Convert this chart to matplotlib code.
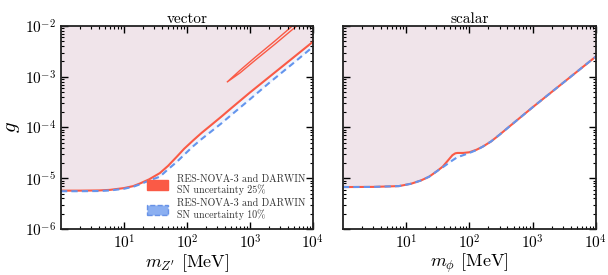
import matplotlib
matplotlib.use("Agg")
import matplotlib.pyplot as plt
from matplotlib.patches import Patch

plt.rcParams["font.family"] = "serif"
plt.rcParams["font.serif"] = ["cmr10"]
plt.rcParams["mathtext.fontset"] = "cm"
plt.rcParams["axes.formatter.use_mathtext"] = True
plt.rcParams["axes.unicode_minus"] = True

# vector mediator
m_vec = [1, 2, 4, 6, 10, 14, 18, 25, 37, 50, 69, 90, 126, 170, 232, 350, 500, 1000, 2000, 5000, 10000]
g_vec_25 = [5.7e-6, 5.7e-6, 5.75e-6, 5.9e-6, 6.4e-6, 7.0e-6, 7.9e-6, 9.5e-6, 1.26e-5, 1.75e-5, 2.66e-5,
            3.8e-5, 5.6e-5, 7.8e-5, 1.07e-4, 1.63e-4, 2.38e-4, 4.9e-4, 9.8e-4, 2.45e-3, 4.9e-3]
g_vec_10 = [5.55e-6, 5.55e-6, 5.6e-6, 5.75e-6, 6.2e-6, 6.8e-6, 7.6e-6, 9.0e-6, 1.07e-5, 1.5e-5, 2.1e-5,
            2.9e-5, 4.3e-5, 5.9e-5, 8.0e-5, 1.2e-4, 1.75e-4, 3.6e-4, 7.5e-4, 1.9e-3, 3.9e-3]

# thin island of the 25% contour (vector)
island_m = [430, 700, 1200, 2500, 4700, 5500, 2500, 1200, 700, 430]
island_g = [7.8e-4, 1.35e-3, 2.4e-3, 5.1e-3, 1.0e-2, 1.0e-2, 4.4e-3, 2.1e-3, 1.2e-3, 7.8e-4]

# scalar mediator
m_sca = [1, 3, 7.7, 12, 17, 23, 30, 38, 46, 54, 60, 65, 80, 100, 130, 163, 220, 300, 431, 1000, 2000, 5000, 10000]
g_sca_25 = [6.7e-6, 6.75e-6, 7.0e-6, 7.8e-6, 9.0e-6, 1.07e-5, 1.35e-5, 1.7e-5, 2.25e-5, 2.85e-5, 3.1e-5,
            3.15e-5, 3.15e-5, 3.25e-5, 3.65e-5, 4.2e-5, 5.3e-5, 7.2e-5, 1.05e-4, 2.5e-4, 5.0e-4, 1.25e-3, 2.5e-3]
g_sca_10 = [6.7e-6, 6.75e-6, 7.0e-6, 7.8e-6, 9.0e-6, 1.07e-5, 1.35e-5, 1.65e-5, 1.95e-5, 2.25e-5, 2.45e-5,
            2.6e-5, 2.85e-5, 3.15e-5, 3.6e-5, 4.2e-5, 5.3e-5, 7.2e-5, 1.05e-4, 2.5e-4, 5.0e-4, 1.25e-3, 2.5e-3]

titles = ["vector", "scalar"]
xlabels = [r"$m_{Z'}$ [MeV]", r"$m_{\phi}$ [MeV]"]
legend_labels = ["RES-NOVA-3 and DARWIN\nSN uncertainty 25%",
                 "RES-NOVA-3 and DARWIN\nSN uncertainty 10%"]

red = "#fa5a46"
blue = "#6495ed"

fig = plt.figure(figsize=(6.08, 2.75), dpi=100)
ax1 = fig.add_axes([0.1003, 0.1673, 0.4145, 0.7382])
ax2 = fig.add_axes([0.5640, 0.1673, 0.4160, 0.7382])

data = [(m_vec, g_vec_25, g_vec_10), (m_sca, g_sca_25, g_sca_10)]

for ax, (m, g25, g10), title, xl in zip([ax1, ax2], data, titles, xlabels):
    ax.set_xscale("log")
    ax.set_yscale("log")
    ax.fill_between(m, g10, 1, color=blue, alpha=0.1, lw=0)
    ax.fill_between(m, g25, 1, color=red, alpha=0.1, lw=0)
    ax.plot(m, g25, color=red, lw=1.5)
    ax.plot(m, g10, color=blue, lw=1.5, ls=(0, (3, 2)))
    ax.set_xlim(1, 1e4)
    ax.set_ylim(1e-6, 1e-2)
    ax.set_xticks([10, 100, 1000, 10000])
    ax.set_title(title, fontsize=11, pad=2)
    ax.set_xlabel(xl, fontsize=13, labelpad=0)
    ax.tick_params(which="both", direction="in", top=True, right=True, labelsize=11)
    ax.tick_params(which="major", length=5, width=1)
    ax.tick_params(which="minor", length=2.5, width=0.8)
    for s in ax.spines.values():
        s.set_linewidth(1.3)
        s.set_color("#222222")

ax1.fill(island_m, island_g, facecolor="none", edgecolor=red, lw=1)
ax1.set_ylabel(r"$g$", fontsize=15, labelpad=2)
ax2.tick_params(labelleft=False)

handles = [Patch(facecolor=red, edgecolor=red),
           Patch(facecolor=blue, edgecolor="#4a7be0", alpha=0.75, ls="--", lw=1)]
leg = ax1.legend(handles, legend_labels, loc="lower right", fontsize=7.2, frameon=False,
                 handlelength=2.1, handleheight=1.1, handletextpad=0.9, borderaxespad=0.3,
                 labelspacing=0.35, bbox_to_anchor=(1.0, 0.01))
for t in leg.get_texts():
    t.set_color("#333333")
    t.set_linespacing(1.1)

fig.savefig("out.png", dpi=100)
